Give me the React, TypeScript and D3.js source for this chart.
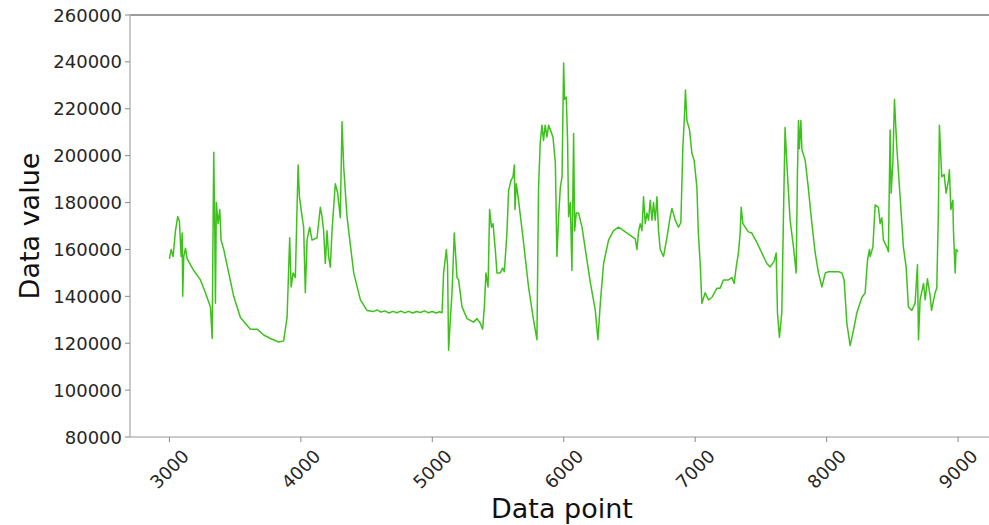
import React from "react";
import * as d3 from "d3";

// values
const dataPoint = [
  3000, 3013, 3028, 3046, 3063, 3076, 3089, 3097, 3101, 3109, 3122, 3135, 3185, 3236, 3274, 3312,
  3325, 3337, 3345, 3350, 3357, 3370, 3383, 3393, 3413, 3451, 3489, 3540, 3616, 3667, 3717, 3768,
  3831, 3869, 3882, 3895, 3915, 3926, 3941, 3958, 3979, 3989, 4009, 4021, 4034, 4047, 4067, 4085,
  4123, 4148, 4161, 4173, 4186, 4199, 4211, 4224, 4237, 4262, 4280, 4300, 4313, 4326, 4351, 4402,
  4453, 4503, 4551, 4580, 4610, 4640, 4670, 4700, 4730, 4760, 4790, 4820, 4850, 4880, 4910, 4940,
  4970, 5000, 5030, 5055, 5074, 5086, 5107, 5116, 5124, 5137, 5150, 5167, 5188, 5200, 5226, 5264,
  5314, 5340, 5365, 5383, 5396, 5408, 5424, 5436, 5450, 5462, 5479, 5492, 5517, 5535, 5548, 5568,
  5580, 5599, 5614, 5624, 5629, 5639, 5656, 5694, 5732, 5770, 5796, 5808, 5821, 5834, 5846, 5859,
  5872, 5885, 5898, 5918, 5936, 5948, 5961, 5974, 5987, 5999, 6006, 6019, 6029, 6037, 6050, 6062,
  6075, 6083, 6095, 6113, 6139, 6164, 6202, 6240, 6260, 6278, 6303, 6341, 6379, 6417, 6455, 6506,
  6544, 6557, 6569, 6582, 6595, 6607, 6620, 6633, 6645, 6658, 6671, 6683, 6696, 6709, 6721, 6734,
  6759, 6785, 6810, 6823, 6848, 6873, 6891, 6906, 6918, 6926, 6937, 6957, 6975, 6992, 7013, 7024,
  7038, 7051, 7076, 7101, 7127, 7165, 7190, 7215, 7253, 7279, 7297, 7312, 7329, 7342, 7350, 7363,
  7380, 7405, 7431, 7469, 7507, 7545, 7570, 7601, 7616, 7626, 7641, 7659, 7672, 7684, 7697, 7722,
  7748, 7768, 7778, 7786, 7793, 7804, 7812, 7837, 7862, 7888, 7913, 7938, 7964, 7990, 8015, 8053,
  8091, 8116, 8133, 8154, 8179, 8204, 8230, 8268, 8293, 8311, 8326, 8331, 8352, 8369, 8394, 8407,
  8420, 8432, 8458, 8470, 8483, 8491, 8504, 8516, 8534, 8559, 8584, 8605, 8622, 8648, 8673, 8691,
  8699, 8711, 8737, 8750, 8767, 8788, 8798, 8825, 8838, 8850, 8858, 8876, 8894, 8909, 8927, 8934,
  8945, 8960, 8965, 8978, 8985, 9000,
];

const dataValue = [
  156000, 160000, 157000, 168000, 174000, 172000, 157000, 167000, 140000, 157000, 160500, 156000, 151000, 147000, 141500, 135500,
  122000, 201500, 168000, 137000, 180000, 171000, 177000, 164000, 160000, 150000, 140000, 131000, 126000, 126000, 123500, 122000,
  120500, 121000, 126000, 131000, 165000, 144000, 150000, 148000, 196000, 182500, 174000, 169500, 141500, 164000, 169500, 164000,
  165000, 178000, 174000, 168000, 154000, 168000, 157000, 152500, 168000, 188000, 184000, 173500, 214500, 195000, 174000, 150000,
  138500, 134000, 133500, 134200, 133300, 133800, 132900, 133600, 133000, 133700, 133000, 133600, 132900, 133500, 133100, 133800,
  133000, 133500, 132900, 133400, 133000, 150000, 160000, 153000, 117000, 130000, 141500, 167000, 148000, 147000, 135500, 130500,
  129000, 130500, 128500, 126000, 135500, 150000, 144000, 177000, 169500, 171000, 160000, 150000, 150000, 152000, 150500, 167000,
  185000, 189500, 191000, 196000, 177000, 188000, 181000, 163000, 144000, 130000, 121500, 185500, 205500, 213000, 206500, 213000,
  208000, 213000, 211000, 208000, 197000, 157000, 174000, 186500, 191000, 239500, 224000, 225000, 207000, 174000, 180000, 151000,
  209500, 168000, 175500, 175500, 169500, 160000, 146000, 134000, 121500, 137000, 154000, 164000, 168000, 169500, 168000, 166000,
  164500, 160000, 167500, 171000, 168000, 182500, 171000, 175500, 172500, 181000, 172500, 180000, 172500, 182500, 168000, 160000,
  157000, 165000, 174000, 177500, 172500, 169500, 171500, 203500, 216500, 228000, 215000, 211000, 201000, 198000, 186500, 167000,
  154000, 137000, 141500, 138500, 139500, 143500, 143500, 147000, 147000, 148000, 145500, 152500, 158500, 167000, 178000, 171000,
  169500, 167500, 167000, 163000, 158500, 154000, 152500, 155000, 158500, 133000, 122500, 133000, 175500, 212000, 197000, 172500,
  161000, 150000, 192500, 215000, 203000, 215000, 202500, 198000, 185500, 171000, 158500, 150000, 144000, 150000, 150500, 150500,
  150500, 150000, 147000, 128500, 119000, 125500, 133000, 139500, 141500, 155500, 160000, 157000, 161000, 179000, 178000, 171000,
  173500, 164000, 161000, 159000, 211000, 184000, 197000, 224000, 203500, 182500, 161000, 152500, 135500, 134000, 137000, 153500,
  121500, 138500, 145500, 138500, 147500, 140000, 134000, 141500, 143500, 175500, 213000, 191000, 192000, 184000, 189500, 194000,
  177000, 181000, 168000, 150000, 160000, 159000,
];

const yTicks = [80000, 100000, 120000, 140000, 160000, 180000, 200000, 220000, 240000, 260000];
const xTicks = [3000, 4000, 5000, 6000, 7000, 8000, 9000];

const W = 989;
const H = 525;
const left = 130;
const top = 15;
const bottom = 437;
const right = 997.5;

export default function App() {
  const x = d3.scaleLinear().domain([2700, 9300]).range([left, right]);
  const y = d3.scaleLinear().domain([80000, 260000]).range([bottom, top]);

  const line = d3
    .line<number>()
    .x((d, i) => x(dataPoint[i]))
    .y((d) => y(d));

  const font = "'DejaVu Sans', sans-serif";

  return (
    <svg
      width={W}
      height={H}
      style={{ position: "absolute", left: 0, top: 0, background: "#fff" }}
      fontFamily={font}
    >
      <path d={line(dataValue) || ""} fill="none" stroke="#3dc21c" strokeWidth={1.5} strokeLinejoin="round" />

      {/* spines */}
      <line x1={left} x2={W} y1={top} y2={top} stroke="#7a7a7a" strokeWidth={1.5} />
      <line x1={left} x2={left} y1={top} y2={bottom} stroke="#b8b8b8" strokeWidth={1.5} />
      <line x1={left} x2={W} y1={bottom} y2={bottom} stroke="#b8b8b8" strokeWidth={1.5} />

      {yTicks.map((t) => (
        <g key={t}>
          <line x1={left - 5} x2={left} y1={y(t)} y2={y(t)} stroke="#888" strokeWidth={1} />
          <text x={left - 8} y={y(t)} textAnchor="end" dominantBaseline="central" fontSize={18} fill="#262626">
            {t}
          </text>
        </g>
      ))}

      {xTicks.map((t) => (
        <g key={t}>
          <line x1={x(t)} x2={x(t)} y1={bottom} y2={bottom + 5} stroke="#888" strokeWidth={1} />
          <text
            transform={`translate(${x(t)},${469}) rotate(-45)`}
            textAnchor="middle"
            dominantBaseline="central"
            fontSize={18}
            fill="#262626"
          >
            {t}
          </text>
        </g>
      ))}

      <text x={562} y={518} textAnchor="middle" fontSize={27} fill="#111">
        Data point
      </text>
      <text
        transform={`translate(${39},${226}) rotate(-90)`}
        textAnchor="middle"
        fontSize={27}
        fill="#111"
      >
        Data value
      </text>
    </svg>
  );
}
